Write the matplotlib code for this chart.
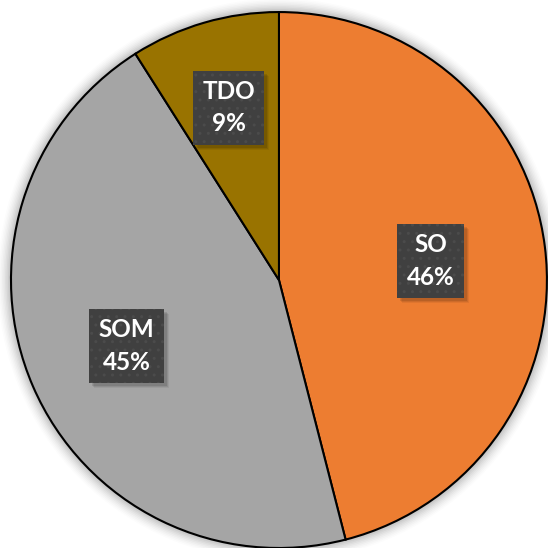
import numpy as np
import matplotlib.pyplot as plt
from matplotlib.patches import Circle, Rectangle

labels = ['SO', 'SOM', 'TDO']
values = [46, 45, 9]
colors = ['#ED7D31', '#A5A5A5', '#997300']
label_dist = [0.57, 0.62, 0.67]

fig = plt.figure(figsize=(5.48, 5.48), dpi=100)
ax = fig.add_axes([0, 0, 1, 1])

# soft shadow round the pie
for r, a in zip(np.linspace(1.05, 1.0, 10), np.linspace(0.012, 0.05, 10)):
    ax.add_patch(Circle((0, 0.0), r, color='#000000', alpha=a, lw=0, zorder=0))

wedges, _ = ax.pie(values, colors=colors, startangle=90, counterclock=False,
                   radius=1.0,
                   wedgeprops=dict(edgecolor='black', linewidth=1.5))

ax.set_xlim(-1.041, 1.004)
ax.set_ylim(-1.0, 1.045)
ax.set_aspect('equal')
ax.axis('off')

boxes = []
for w, lab, v, d in zip(wedges, labels, values, label_dist):
    mid = np.deg2rad((w.theta1 + w.theta2) / 2)
    x, y = d * np.cos(mid), d * np.sin(mid)
    t = ax.text(x, y, f'{lab}\n{v}%', ha='center', va='center', color='white',
                fontsize=17.5, fontweight='bold', family='Lato',
                linespacing=1.5, zorder=5,
                bbox=dict(boxstyle='square,pad=0.38', facecolor='#404040',
                          edgecolor='#4b4b4b', linewidth=0, hatch='..'))
    boxes.append(t)

# drop shadow behind each label box
fig.canvas.draw()
inv = ax.transData.inverted()
for t in boxes:
    ext = t.get_bbox_patch().get_window_extent()
    for k, a in [(5, 0.06), (4, 0.08), (3, 0.1)]:
        (x0, y0), (x1, y1) = inv.transform([(ext.x0 + k, ext.y0 - k),
                                            (ext.x1 + k, ext.y1 - k)])
        ax.add_patch(Rectangle((x0, y0), x1 - x0, y1 - y0, facecolor='black',
                               alpha=a, lw=0, zorder=4))

fig.savefig('out.png', dpi=100)
